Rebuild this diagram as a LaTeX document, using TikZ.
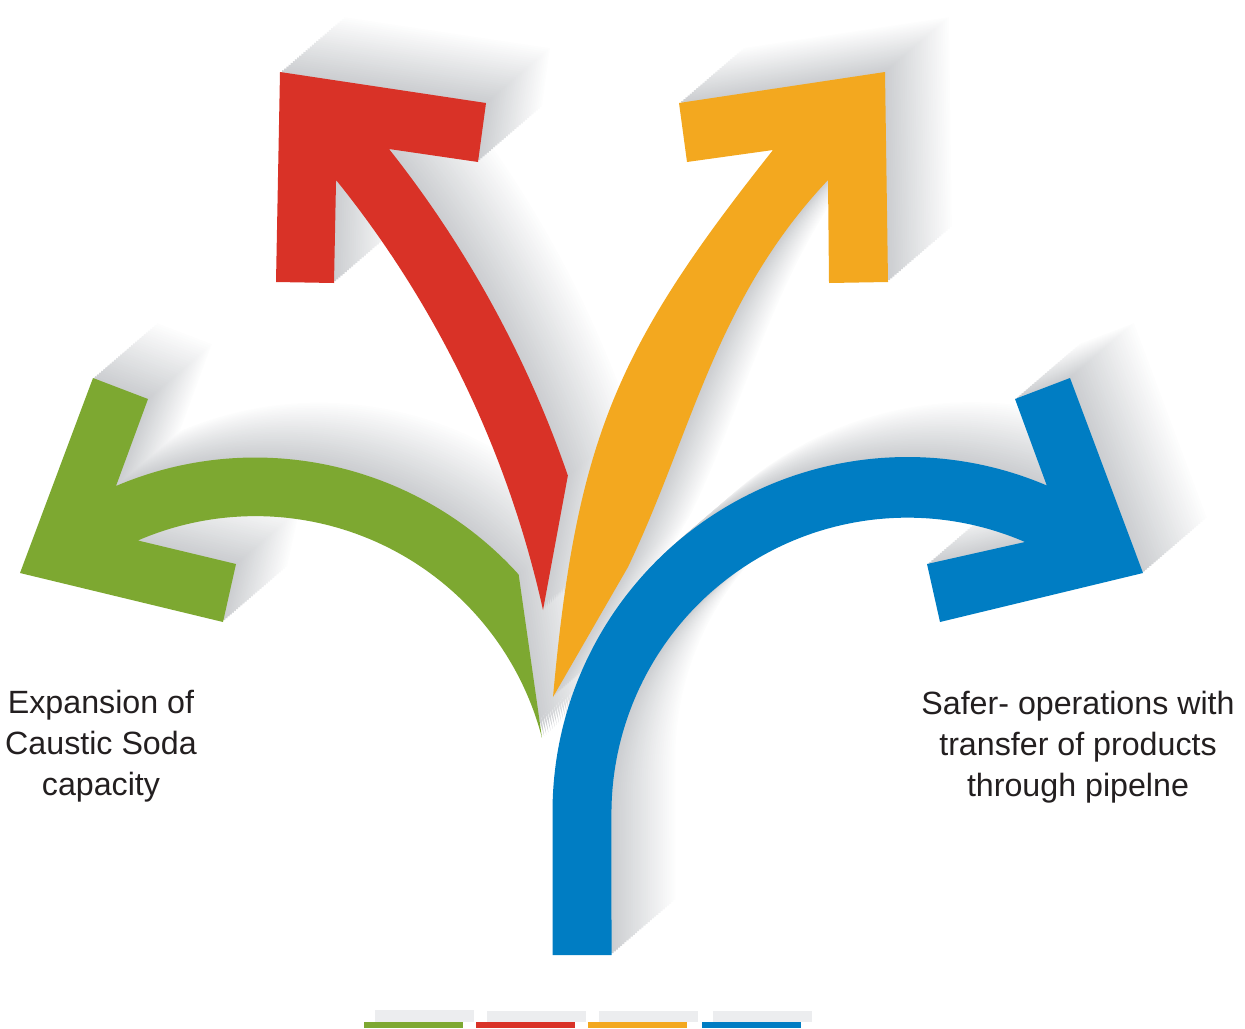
\documentclass[tikz,border=0pt]{standalone}
\usepackage{fontspec}
\setmainfont{Liberation Sans}

\definecolor{arrgreen}{RGB}{125,168,49}
\definecolor{arrred}{RGB}{217,50,39}
\definecolor{arryellow}{RGB}{243,168,31}
\definecolor{arrblue}{RGB}{0,125,195}
\definecolor{shadegray}{RGB}{204,206,209}
\definecolor{bargray}{RGB}{236,237,239}
\definecolor{textgray}{RGB}{35,31,32}

% outlines of the four arrows, in pixel units (y down)
\newcommand{\greenpath}{(116,486) arc[start angle=246.9,end angle=317.9,radius=355] -- (542,738) arc[start angle=345.5,end angle=246.6,radius=296] -- (236,564) -- (223,622) -- (20,573) -- (93,378) -- (148,399) -- cycle}
\newcommand{\redpath}{(280,72) -- (486,103) -- (478,162) -- (389,149) arc[start angle=-38.4,end angle=-19,radius=1105] -- (543,610) arc[start angle=-12.5,end angle=-38.9,radius=1045] -- (334,283) -- (276,282) -- cycle}
\newcommand{\yellowpath}{(885,72) -- (888,282) -- (829,283) -- (828,180) .. controls (715,300) and (692.5,432) .. (628,567) -- (553,697) .. controls (576.4,438) and (617.5,345.8) .. (773,150) -- (687,162) -- (679,103) -- cycle}
\newcommand{\bluepath}{(552.5,955) -- (552.5,812) arc[start angle=180,end angle=293.1,radius=355] -- (1015,399) -- (1070,378) -- (1143,573) -- (940,622) -- (927,564) -- (1025,542) arc[start angle=293.4,end angle=180,radius=296] -- (611.5,955) -- cycle}

\begin{document}
\begin{tikzpicture}[x=0.5pt,y=-0.5pt,
    lbl/.style={align=center,text=textgray,inner sep=0pt,font=\fontsize{16.1}{20.5}\selectfont}]

\useasboundingbox (0,0) rectangle (1245,1028);

% green arrow
\foreach \i in {30,29,...,1}{
  \pgfmathtruncatemacro\mix{100-(\i-1)*3.3}
  \fill[shadegray!\mix!white,shift={(\i*2.13,-\i*1.83)}] \greenpath;
}
\fill[arrgreen] \greenpath;

% red arrow
\foreach \i in {30,29,...,1}{
  \pgfmathtruncatemacro\mix{100-(\i-1)*3.3}
  \fill[shadegray!\mix!white,shift={(\i*2.13,-\i*1.83)}] \redpath;
}
\fill[arrred] \redpath;

% yellow arrow
\foreach \i in {30,29,...,1}{
  \pgfmathtruncatemacro\mix{100-(\i-1)*3.3}
  \fill[shadegray!\mix!white,shift={(\i*2.13,-\i*1.83)}] \yellowpath;
}
\fill[arryellow] \yellowpath;

% blue arrow
\foreach \i in {30,29,...,1}{
  \pgfmathtruncatemacro\mix{100-(\i-1)*3.3}
  \fill[shadegray!\mix!white,shift={(\i*2.13,-\i*1.83)}] \bluepath;
}
\fill[arrblue] \bluepath;

% labels
\node[lbl] (expansion) at (101,746) {Expansion of\\Caustic Soda\\capacity};
\node[lbl] (safer) at (1078,747) {Safer- operations with\\transfer of products\\through pipelne};

% colour bars
\fill[bargray] (375,1010) rectangle (474,1022);
\fill[bargray] (487,1011) rectangle (586,1022);
\fill[bargray] (599,1011) rectangle (698,1022);
\fill[bargray] (713,1011) rectangle (812,1022);
\fill[arrgreen] (364,1022) rectangle (463,1028);
\fill[arrred] (476,1022) rectangle (575,1028);
\fill[arryellow] (588,1022) rectangle (687,1028);
\fill[arrblue] (702,1022) rectangle (801,1028);

\end{tikzpicture}
\end{document}
